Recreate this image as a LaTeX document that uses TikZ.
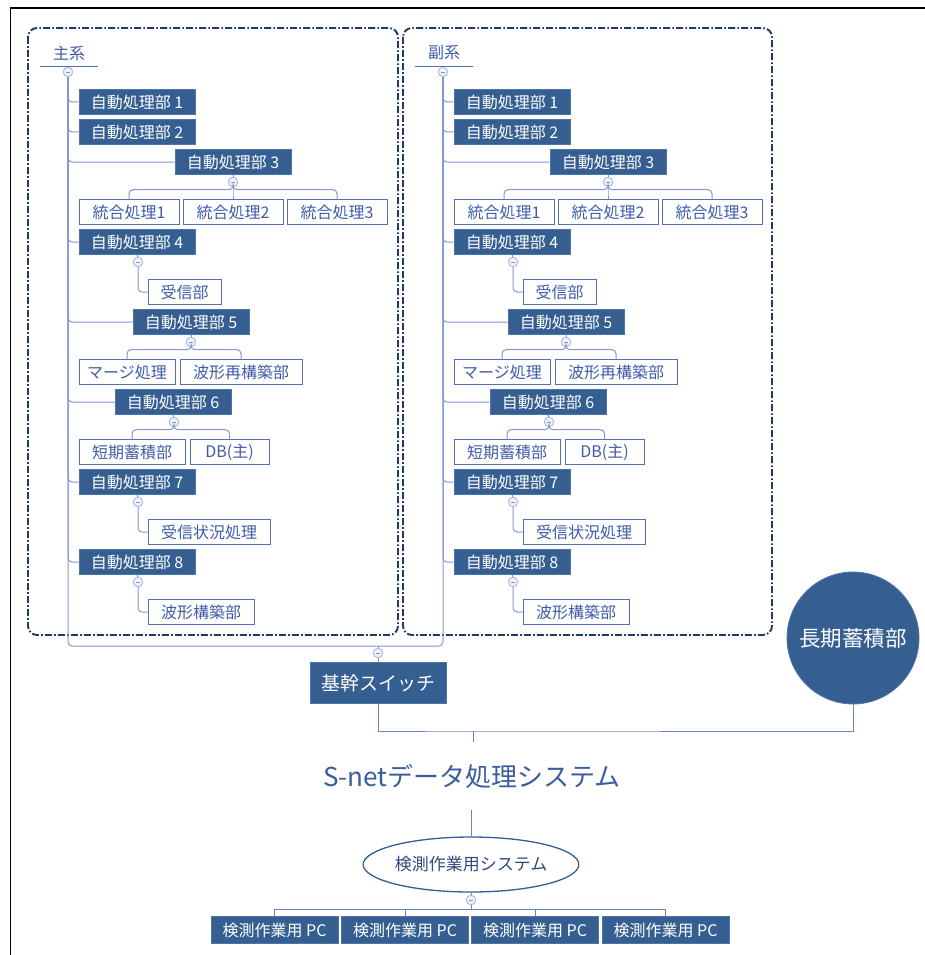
\documentclass[tikz,border=0pt]{standalone}
\usepackage{fontspec}
\setmainfont{Noto Sans CJK JP}
\usetikzlibrary{shapes.geometric,calc}
\definecolor{dkF}{HTML}{365F91}
\definecolor{dkB}{HTML}{4F74AC}
\definecolor{ltB}{HTML}{5570B5}
\definecolor{ltT}{HTML}{3F5CA8}
\definecolor{cnC}{HTML}{8497CC}
\definecolor{cnD}{HTML}{6A84BE}
\definecolor{mnB}{HTML}{A9BAE3}
\definecolor{mnF}{HTML}{EEF2FB}
\definecolor{frC}{HTML}{1F3B63}
\definecolor{snT}{HTML}{3B5CA0}
\definecolor{esT}{HTML}{2F4A7A}
\newcommand{\fsz}[1]{\fontsize{#1}{#1}\selectfont}
\newcommand{\mi}{\textcolor{mnB!80!black}{\rule{4pt}{0.7pt}}}
\tikzset{
  dk/.style={draw=dkB, fill=dkF, text=white, minimum height=25pt, inner sep=0pt, line width=0.8pt, font=\fsz{16}},
  lt/.style={draw=ltB, fill=white, text=ltT, minimum height=25pt, inner sep=0pt, line width=0.8pt, font=\fsz{16}},
  conn/.style={draw=cnC, line width=1pt, rounded corners=4pt},
  conn2/.style={draw=cnD, line width=1pt},
  mn/.style={circle, draw=mnB, fill=mnF, minimum size=9.5pt, inner sep=0pt, line width=0.9pt},
  frm/.style={draw=frC, line width=1.9pt, rounded corners=9pt, dash pattern=on 7pt off 2.2pt on 1.6pt off 2.2pt},
  lab/.style={minimum width=58pt, minimum height=26pt, inner sep=0pt, text=ltT, font=\fsz{16}},
  ul/.style={draw=ltB, line width=1pt},
}
\begin{document}
\begin{tikzpicture}[x=1pt,y=-1pt]
\useasboundingbox (0,0) rectangle (925,955);
\fill[white] (0,0) rectangle (925,955);
\draw[black, line width=1.3pt] (10.5,955) -- (10.5,8) -- (925,8);
% frames
\draw[frm] (28,28) rectangle (398,635);
\draw[frm] (403,28) rectangle (772,635);
\foreach \p/\dx/\lab in {a/0/主系,b/375/副系}{
\begin{scope}[xshift=\dx pt]
\node[lab] (\p0) at (69,53) {\lab};
\draw[ul] (\p0.south west) -- (\p0.south east);
\node[mn] (\p0m) at (68,72) {\mi};
\node[dk,minimum width=116pt] (\p1) at (137,102) {自動処理部 1};
\node[dk,minimum width=116pt] (\p2) at (137,132) {自動処理部 2};
\node[dk,minimum width=116pt] (\p3) at (233,162) {自動処理部 3};
\node[mn] (\p3m) at (233,182) {\mi};
\node[lt,minimum width=100pt] (\p3a) at (129,212) {統合処理1};
\node[lt,minimum width=100pt] (\p3b) at (233,212) {統合処理2};
\node[lt,minimum width=100pt] (\p3c) at (337,212) {統合処理3};
\node[dk,minimum width=116pt] (\p4) at (137,242) {自動処理部 4};
\node[mn] (\p4m) at (138,262) {\mi};
\node[lt,minimum width=73pt] (\p4a) at (184.5,292) {受信部};
\node[dk,minimum width=116pt] (\p5) at (191,322) {自動処理部 5};
\node[mn] (\p5m) at (191,342) {\mi};
\node[lt,minimum width=96pt] (\p5a) at (127,372) {マージ処理};
\node[lt,minimum width=122pt] (\p5b) at (241,372) {波形再構築部};
\node[dk,minimum width=116pt] (\p6) at (173,402) {自動処理部 6};
\node[mn] (\p6m) at (174,422) {\mi};
\node[lt,minimum width=106pt] (\p6a) at (132,452) {短期蓄積部};
\node[lt,minimum width=79pt] (\p6b) at (229.5,452) {DB(主)};
\node[dk,minimum width=116pt] (\p7) at (137,482) {自動処理部 7};
\node[mn] (\p7m) at (138,502) {\mi};
\node[lt,minimum width=122pt] (\p7a) at (209,532) {受信状況処理};
\node[dk,minimum width=116pt] (\p8) at (137,562) {自動処理部 8};
\node[mn] (\p8m) at (138,582) {\mi};
\node[lt,minimum width=106pt] (\p8a) at (201,612) {波形構築部};
% connectors
\foreach \k in {1,...,8} {\draw[conn] (\p0m.south) |- (\p\k.west);}
\draw[conn] (\p3.south) -- (\p3m.north);
\foreach \c in {a,b,c} {\draw[conn] (\p3m.south) -- ++(0,2.5) -| (\p3\c.north);}
\draw[conn] (\p4.south) -- (\p4m.north);
\draw[conn] (\p4m.south) |- (\p4a.west);
\draw[conn] (\p5.south) -- (\p5m.north);
\foreach \c in {a,b} {\draw[conn] (\p5m.south) -- ++(0,2.5) -| (\p5\c.north);}
\draw[conn] (\p6.south) -- (\p6m.north);
\foreach \c in {a,b} {\draw[conn] (\p6m.south) -- ++(0,2.5) -| (\p6\c.north);}
\draw[conn] (\p7.south) -- (\p7m.north);
\draw[conn] (\p7m.south) |- (\p7a.west);
\draw[conn] (\p8.south) -- (\p8m.north);
\draw[conn] (\p8m.south) |- (\p8a.west);
\end{scope}
}
% switch
\coordinate (kbar) at (378,646);
\draw[conn] (a0m.south) |- (kbar) -| (b0m.south);
\node[mn] (swm) at (378,653) {\mi};
\draw[conn] (kbar) -- (swm.north);
\node[dk, minimum width=136pt, minimum height=41pt, font=\fsz{19}] (sw) at (378,683) {基幹スイッチ};
\draw[conn] (swm.south) -- (sw.north);
\node[circle, fill=dkF, draw=dkB, line width=0.8pt, minimum size=132pt, inner sep=0pt, text=white, font=\fsz{21.5}] (lt) at (853,638) {長期蓄積部};
\coordinate (jn) at (473,731);
\draw[conn2] (sw.south) |- (jn) -| (lt.south);
\node[font=\fsz{26}, text=snT, minimum height=68pt, inner sep=0pt] (sn) at (472,776) {S-netデータ処理システム};
\draw[conn2] (jn) -- (jn |- sn.north);
\node[ellipse, draw=dkF, fill=white, line width=1.3pt, minimum width=188pt, minimum height=55pt, inner sep=0pt, text=esT, font=\fsz{17}] (es) at (471,864.5) {検測作業用システム};
\draw[conn2] (es.north |- sn.south) -- (es.north);
\node[mn] (esm) at (471,900) {\mi};
\draw[conn2] (es.south) -- (esm.north);
\foreach \i/\x in {1/274.5,2/405,3/535,4/665.5} {
  \node[dk, minimum width=127pt, minimum height=27pt] (pc\i) at (\x,930) {検測作業用 PC};
  \draw[conn2] (esm.south) -- ++(0,4.5) -| (pc\i.north);
}
\end{tikzpicture}
\end{document}
